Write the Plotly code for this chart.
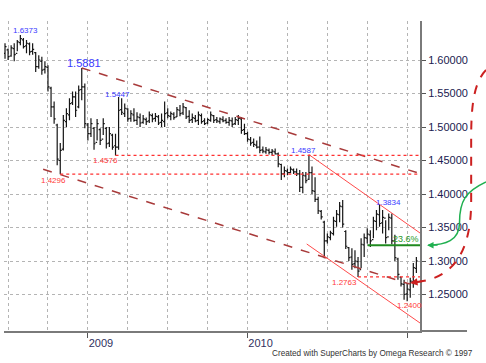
import pandas as pd
import plotly.graph_objects as go

# ---------------- data (weekly bars) ----------------
week_dates = pd.date_range("2008-06-27", periods=135, freq="7D")

high = [1.625, 1.617, 1.622, 1.625, 1.630, 1.6373, 1.633, 1.630, 1.626, 1.625,
        1.612, 1.607, 1.605, 1.598, 1.592, 1.560, 1.538, 1.505, 1.476, 1.518,
        1.528, 1.543, 1.553, 1.553, 1.562, 1.5881, 1.565, 1.506, 1.513, 1.500,
        1.512, 1.498, 1.513, 1.500, 1.500, 1.490, 1.490, 1.5447, 1.543, 1.535,
        1.528, 1.525, 1.528, 1.522, 1.520, 1.518, 1.514, 1.523, 1.520, 1.521,
        1.518, 1.520, 1.538, 1.528, 1.523, 1.522, 1.530, 1.533, 1.536, 1.530,
        1.525, 1.520, 1.518, 1.523, 1.520, 1.513, 1.513, 1.523, 1.518, 1.515,
        1.514, 1.516, 1.513, 1.515, 1.514, 1.515, 1.518, 1.515, 1.505, 1.493,
        1.485, 1.483, 1.480, 1.486, 1.471, 1.470, 1.468, 1.467, 1.468, 1.462,
        1.445, 1.441, 1.438, 1.441, 1.438, 1.438, 1.436, 1.433, 1.433, 1.4587,
        1.441, 1.425, 1.396, 1.376, 1.360, 1.341, 1.345, 1.366, 1.376, 1.388,
        1.391, 1.346, 1.321, 1.319, 1.316, 1.306, 1.334, 1.341, 1.349, 1.346,
        1.366, 1.376, 1.3834, 1.376, 1.361, 1.371, 1.371, 1.339, 1.305, 1.2766,
        1.272, 1.267, 1.275, 1.297, 1.306]

low = [1.602, 1.600, 1.605, 1.598, 1.613, 1.622, 1.617, 1.610, 1.607, 1.608,
       1.582, 1.587, 1.578, 1.580, 1.553, 1.515, 1.505, 1.443, 1.4296, 1.465,
       1.500, 1.510, 1.533, 1.515, 1.528, 1.540, 1.498, 1.480, 1.485, 1.466,
       1.480, 1.473, 1.488, 1.468, 1.470, 1.466, 1.4576, 1.466, 1.518, 1.515,
       1.508, 1.508, 1.508, 1.503, 1.500, 1.505, 1.503, 1.506, 1.507, 1.508,
       1.503, 1.500, 1.500, 1.513, 1.510, 1.511, 1.515, 1.516, 1.518, 1.512,
       1.506, 1.506, 1.507, 1.503, 1.505, 1.503, 1.504, 1.508, 1.506, 1.506,
       1.505, 1.507, 1.505, 1.502, 1.500, 1.503, 1.503, 1.490, 1.488, 1.478,
       1.472, 1.470, 1.468, 1.461, 1.461, 1.460, 1.459, 1.458, 1.459, 1.440,
       1.421, 1.425, 1.428, 1.431, 1.430, 1.427, 1.403, 1.401, 1.416, 1.421,
       1.400, 1.388, 1.370, 1.362, 1.304, 1.326, 1.331, 1.338, 1.351, 1.358,
       1.350, 1.318, 1.300, 1.287, 1.289, 1.2763, 1.289, 1.306, 1.326, 1.321,
       1.334, 1.346, 1.351, 1.341, 1.326, 1.346, 1.325, 1.300, 1.272, 1.262,
       1.242, 1.2400, 1.245, 1.260, 1.282]

open_ = [1.610, 1.615, 1.606, 1.617, 1.610, 1.626, 1.630, 1.621, 1.624, 1.613,
         1.611, 1.590, 1.598, 1.586, 1.589, 1.558, 1.530, 1.503, 1.450, 1.467,
         1.508, 1.518, 1.536, 1.545, 1.530, 1.556, 1.560, 1.503, 1.490, 1.498,
         1.477, 1.496, 1.482, 1.498, 1.476, 1.488, 1.472, 1.470, 1.526, 1.520,
         1.527, 1.513, 1.518, 1.510, 1.514, 1.507, 1.511, 1.509, 1.517, 1.513,
         1.515, 1.507, 1.508, 1.521, 1.516, 1.519, 1.515, 1.525, 1.521, 1.529,
         1.516, 1.511, 1.513, 1.510, 1.517, 1.509, 1.506, 1.510, 1.517, 1.511,
         1.508, 1.511, 1.510, 1.507, 1.509, 1.505, 1.510, 1.512, 1.496, 1.490,
         1.481, 1.477, 1.473, 1.470, 1.466, 1.463, 1.465, 1.462, 1.463, 1.460,
         1.444, 1.430, 1.434, 1.432, 1.436, 1.433, 1.430, 1.410, 1.427, 1.422,
         1.432, 1.404, 1.392, 1.374, 1.358, 1.330, 1.335, 1.341, 1.359, 1.369,
         1.381, 1.344, 1.320, 1.306, 1.296, 1.299, 1.287, 1.324, 1.334, 1.339,
         1.332, 1.359, 1.369, 1.357, 1.364, 1.336, 1.364, 1.330, 1.303, 1.276,
         1.265, 1.251, 1.257, 1.269, 1.289]

close = [1.620, 1.605, 1.618, 1.608, 1.627, 1.632, 1.620, 1.625, 1.612, 1.616,
         1.590, 1.600, 1.585, 1.590, 1.560, 1.530, 1.512, 1.452, 1.465, 1.510,
         1.520, 1.535, 1.545, 1.525, 1.555, 1.560, 1.505, 1.490, 1.505, 1.475,
         1.505, 1.480, 1.505, 1.475, 1.490, 1.470, 1.470, 1.525, 1.522, 1.528,
         1.512, 1.520, 1.510, 1.515, 1.506, 1.512, 1.508, 1.518, 1.512, 1.516,
         1.506, 1.510, 1.520, 1.517, 1.520, 1.514, 1.526, 1.520, 1.530, 1.515,
         1.510, 1.514, 1.509, 1.518, 1.508, 1.505, 1.511, 1.518, 1.510, 1.509,
         1.512, 1.509, 1.507, 1.510, 1.504, 1.511, 1.513, 1.495, 1.490, 1.482,
         1.476, 1.474, 1.470, 1.465, 1.464, 1.466, 1.462, 1.464, 1.460, 1.445,
         1.430, 1.435, 1.432, 1.437, 1.433, 1.430, 1.410, 1.428, 1.420, 1.432,
         1.405, 1.392, 1.375, 1.366, 1.330, 1.336, 1.342, 1.360, 1.370, 1.382,
         1.355, 1.322, 1.305, 1.295, 1.300, 1.285, 1.325, 1.335, 1.340, 1.330,
         1.360, 1.370, 1.356, 1.365, 1.335, 1.365, 1.330, 1.305, 1.280, 1.266,
         1.250, 1.258, 1.270, 1.290, 1.300]

# trend lines drawn on the original chart (date, price pairs)
axis_end = "2011-01-29 06:30"
upper_channel_dates = ["2008-12-19", axis_end]
upper_channel_prices = [1.5881, 1.4305]
lower_channel_dates = ["2008-09-22", "2011-01-06"]
lower_channel_prices = [1.4369, 1.2656]
trend2010_upper_dates = ["2010-05-21", axis_end]
trend2010_upper_prices = [1.4587, 1.3418]
trend2010_lower_dates = ["2010-05-16", axis_end]
trend2010_lower_prices = [1.3254, 1.2075]
support_levels = [1.4576, 1.4296, 1.2763]
support_starts = ["2009-03-06", "2008-10-31", "2010-09-10"]
fib_level = 1.3234
fib_start = "2010-10-02"

# value labels: (text, bar index, which price, colour, size, xshift, yshift)
labels = [
    ("1.6373", 5, "high", "#3a3aff", 8, 5, 5),
    ("1.5881", 25, "high", "#3a3aff", 11, 2, 5),
    ("1.5447", 37, "high", "#3a3aff", 8, -1, 3),
    ("1.4576", 36, "low", "#ff3a3a", 8, -10, -5),
    ("1.4296", 18, "low", "#ff3a3a", 8, -7, -6),
    ("1.4587", 99, "high", "#3a3aff", 8, -5, 4),
    ("1.3834", 122, "high", "#3a3aff", 8, 9, 3),
    ("1.2763", 115, "low", "#ff3a3a", 8, -14, -6),
    ("1.2400", 131, "low", "#ff3a3a", 8, 2, -4),
]

year_ticks = ["2009-01-02", "2010-01-01", "2010-12-31"]
year_text = ["2009", "2010", ""]
quarter_ticks = ["2008-07-04", "2008-10-03", "2009-04-03", "2009-07-03", "2009-10-02",
                 "2010-04-02", "2010-07-02", "2010-10-01"]
price_ticks = [1.25, 1.30, 1.35, 1.40, 1.45, 1.50, 1.55, 1.60]

FONT = "Liberation Sans, Arial, sans-serif"

fig = go.Figure()
fig.add_trace(go.Ohlc(
    x=week_dates, open=open_, high=high, low=low, close=close,
    increasing=dict(line=dict(color="#151515", width=1.2)),
    decreasing=dict(line=dict(color="#151515", width=1.2)),
    tickwidth=0.5, hoverinfo="skip", showlegend=False))

def add_line(xs, ys, color, width, dash):
    fig.add_trace(go.Scatter(x=xs, y=ys, mode="lines", showlegend=False, hoverinfo="skip",
                             line=dict(color=color, width=width, dash=dash)))

add_line(upper_channel_dates, upper_channel_prices, "#a83a3a", 1.5, "dash")
add_line(lower_channel_dates, lower_channel_prices, "#a83a3a", 1.5, "dash")
add_line(trend2010_upper_dates, trend2010_upper_prices, "#ff4a4a", 1, "solid")
add_line(trend2010_lower_dates, trend2010_lower_prices, "#ff4a4a", 1, "solid")
for lvl, start in zip(support_levels, support_starts):
    add_line([start, axis_end], [lvl, lvl], "#ff3030", 1.3, "dot")
add_line([fib_start, axis_end], [fib_level, fib_level], "#1f8a1f", 2, "solid")

annotations = []
for text, idx, which, color, size, dx, dy in labels:
    yv = high[idx] if which == "high" else low[idx]
    annotations.append(dict(x=week_dates[idx], y=yv, text=text, showarrow=False,
                            xanchor="center", yanchor="middle", xshift=dx, yshift=dy,
                            font=dict(family=FONT, size=size, color=color)))
annotations.append(dict(x=week_dates[131], y=fib_level, text="23.6%", showarrow=False,
                        xanchor="center", yanchor="middle", xshift=-1, yshift=6,
                        font=dict(family=FONT, size=9, color="#2a9a2a")))
annotations.append(dict(xref="paper", yref="paper", x=0.6394, y=-0.071, xanchor="left",
                        yanchor="middle", showarrow=False,
                        text="Created with SuperCharts by Omega Research \u00a9 1997",
                        font=dict(family=FONT, size=8.2, color="#333333")))
# arrow heads of the hand-drawn arrows
annotations.append(dict(xref="paper", yref="paper", x=0.976, y=0.155, text="", showarrow=True,
                        ax=14, ay=-2, arrowhead=2, arrowsize=1, arrowwidth=1.5,
                        arrowcolor="#cc2020"))
annotations.append(dict(xref="paper", yref="paper", x=1.017, y=0.277, text="", showarrow=True,
                        ax=12, ay=0, arrowhead=2, arrowsize=1, arrowwidth=1.3,
                        arrowcolor="#20b050"))

shapes = [
    # extension of the time axis line under the price scale
    dict(type="line", xref="paper", yref="paper", x0=1, x1=1.113, y0=0, y1=0,
         line=dict(color="#7a7a7a", width=2)),
    # hand-drawn dashed red arrow
    dict(type="path", xref="paper", yref="paper",
         path="M 1.1587,0.842 C 1.128,0.80 1.123,0.72 1.123,0.62 L 1.123,0.42 "
              "C 1.123,0.22 1.06,0.165 0.985,0.157",
         line=dict(color="#cc2020", width=2, dash="dash")),
    # hand-drawn green arrow
    dict(type="path", xref="paper", yref="paper",
         path="M 1.1587,0.4806 C 1.11,0.45 1.095,0.42 1.095,0.35 C 1.095,0.29 1.06,0.278 1.02,0.277",
         line=dict(color="#20b050", width=1.5)),
]

fig.update_layout(
    width=486, height=363,
    margin=dict(l=4, r=66, t=21, b=32),
    paper_bgcolor="white", plot_bgcolor="white",
    showlegend=False,
    annotations=annotations, shapes=shapes,
    xaxis=dict(
        type="date", range=["2008-06-24 17:00", axis_end],
        rangeslider=dict(visible=False),
        tickmode="array", tickvals=year_ticks, ticktext=year_text,
        ticks="outside", ticklen=5, tickwidth=1, tickcolor="#555555",
        ticklabelshift=13, ticklabelstandoff=-4,
        tickfont=dict(family=FONT, size=11, color="#303060"),
        showgrid=True, gridcolor="#b4b4b4", griddash="dot", gridwidth=1,
        minor=dict(tickmode="array", tickvals=quarter_ticks, showgrid=True,
                   gridcolor="#b4b4b4", griddash="dot", gridwidth=1, ticks=""),
        showline=True, linecolor="#7a7a7a", linewidth=2, zeroline=False,
        fixedrange=True),
    yaxis=dict(
        side="right", range=[1.19552, 1.65821],
        tickmode="array", tickvals=price_ticks, tickformat=".5f",
        ticks="outside", ticklen=4, tickcolor="#555555",
        tickfont=dict(family=FONT, size=11, color="#202050"),
        showgrid=True, gridcolor="#b4b4b4", griddash="dot", gridwidth=1,
        showline=True, linecolor="#7a7a7a", linewidth=2, zeroline=False,
        fixedrange=True),
)

fig.write_html("out.html", config={"displayModeBar": False},
               post_script="document.body.style.margin='0';")
